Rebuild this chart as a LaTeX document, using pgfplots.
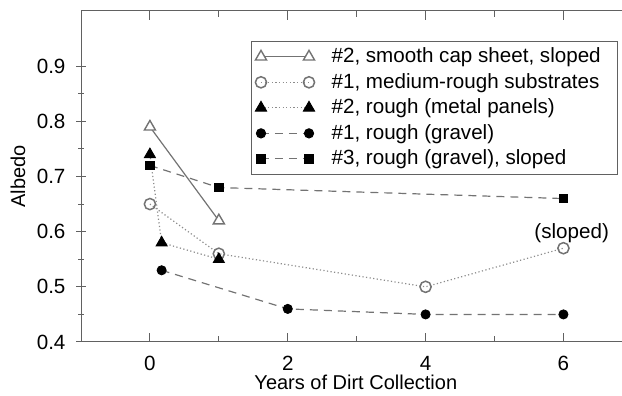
\documentclass[border=0pt]{standalone}
\usepackage{pgfplots}
\pgfplotsset{compat=1.18}
\usepackage{fontspec}
\setmainfont{Liberation Sans}

\definecolor{axisgray}{gray}{0.38}
\definecolor{linegray}{gray}{0.45}
\definecolor{dotgray}{gray}{0.55}
\definecolor{markgray}{gray}{0.45}

\pgfplotstableread{
x y
0 0.79
1 0.62
}\smoothcap
\pgfplotstableread{
x y
0 0.65
1 0.56
4 0.50
6 0.57
}\mediumrough
\pgfplotstableread{
x y
0    0.74
0.17 0.58
1    0.55
}\metalpanels
\pgfplotstableread{
x y
0.17 0.53
2    0.46
4    0.45
6    0.45
}\gravelone
\pgfplotstableread{
x y
0 0.72
1 0.68
6 0.66
}\gravelthree

\newcommand{\lbl}{\fontsize{10.3}{12.4}\selectfont}

\tikzset{
  dotline/.style={dotgray, line width=0.6pt, dash pattern=on 0.6pt off 1.2pt},
  dashline/.style={linegray, line width=0.6pt, dash pattern=on 4pt off 3pt},
}
\pgfplotsset{
  % legend sample: a styled line with a marker at each end
  leg dotted/.style={legend image code/.code={
    \draw[dotline] (0pt,0pt) -- (24pt,0pt);
    \draw[##1] plot coordinates {(0pt,0pt) (24pt,0pt)};}},
  leg dashed/.style={legend image code/.code={
    \draw[dashline] (0pt,0pt) -- (24pt,0pt);
    \draw[##1] plot coordinates {(0pt,0pt) (24pt,0pt)};}},
}

\begin{document}
\begin{tikzpicture}
\begin{axis}[
  scale only axis,
  width=270.5pt, height=165.5pt,
  xmin=-1, xmax=6.85,
  ymin=0.4, ymax=1.0,
  axis x line=box,
  axis y line=left,
  axis line style={-, draw=axisgray, line width=0.5pt},
  every tick/.style={axisgray, line width=0.5pt},
  xtick={0,2,4,6},
  ytick={0.4,0.5,0.6,0.7,0.8,0.9},
  minor x tick num=1,
  minor y tick num=1,
  major tick length=4.5pt,
  minor tick length=2.8pt,
  yticklabel style={/pgf/number format/fixed, /pgf/number format/precision=1, /pgf/number format/fixed zerofill, xshift=-2pt},
  xticklabel style={yshift=-3.5pt},
  /pgf/number format/assume math mode=true,
  tick label style={font=\lbl},
  label style={font=\lbl},
  xlabel={Years of Dirt Collection},
  ylabel={Albedo},
  every axis x label/.style={at={(axis description cs:0.508,-0.121)}, anchor=center},
  every axis y label/.style={at={(axis description cs:-0.1164,0.5)}, anchor=center, rotate=90},
  legend cell align=left,
  legend style={
    at={(rel axis cs:0.993,0.909)}, anchor=north east,
    draw=axisgray, line width=0.5pt, fill=white,
    font=\lbl,
    inner xsep=2pt, inner ysep=1.5pt,
    row sep=0.6pt,
    nodes={inner xsep=0pt, inner ysep=1.6pt},
    /tikz/every odd column/.append style={column sep=8.5pt},
  },
  legend image code/.code={
    \draw[#1] plot coordinates {(0pt,0pt) (24pt,0pt)};
  },
  clip=false,
]
% smooth cap sheet: solid line, open triangles
\addplot[linegray, line width=0.6pt, mark=triangle*, mark size=3.2pt,
  mark options={fill=white, draw=markgray, line width=0.7pt}]
  table {\smoothcap};
\addlegendentry{\#2, smooth cap sheet, sloped\hspace*{6.5pt}}

% medium-rough substrates: dotted line, open circles
\addplot[dotline, forget plot] table {\mediumrough};
\addplot[only marks, leg dotted, mark=o, mark size=2.8pt,
  mark options={draw=markgray, fill=white, line width=0.75pt}]
  table {\mediumrough};
\addlegendentry{\#1, medium-rough substrates\hspace*{6.5pt}}

% metal panels: dotted line, filled triangles
\addplot[dotline, forget plot] table {\metalpanels};
\addplot[only marks, leg dotted, mark=triangle*, mark size=3.2pt,
  mark options={draw=black, fill=black}]
  table {\metalpanels};
\addlegendentry{\#2, rough (metal panels)}

% gravel #1: dashed line, filled circles
\addplot[dashline, forget plot] table {\gravelone};
\addplot[only marks, leg dashed, mark=*, mark size=2.3pt,
  mark options={draw=black, fill=black}]
  table {\gravelone};
\addlegendentry{\#1, rough (gravel)}

% gravel #3: dashed line, filled squares
\addplot[dashline, forget plot] table {\gravelthree};
\addplot[only marks, leg dashed, mark=square*, mark size=2.1pt,
  mark options={draw=black, fill=black}]
  table {\gravelthree};
\addlegendentry{\#3, rough (gravel), sloped}

\node[font=\lbl, anchor=center] at (axis cs:6.12,0.597) {(sloped)};
\end{axis}
\pgfresetboundingbox
\path[use as bounding box]
  ([xshift=-40.5pt, yshift=-27pt]current axis.south west)
  rectangle ([yshift=5.5pt]current axis.north east);
\end{tikzpicture}
\end{document}
